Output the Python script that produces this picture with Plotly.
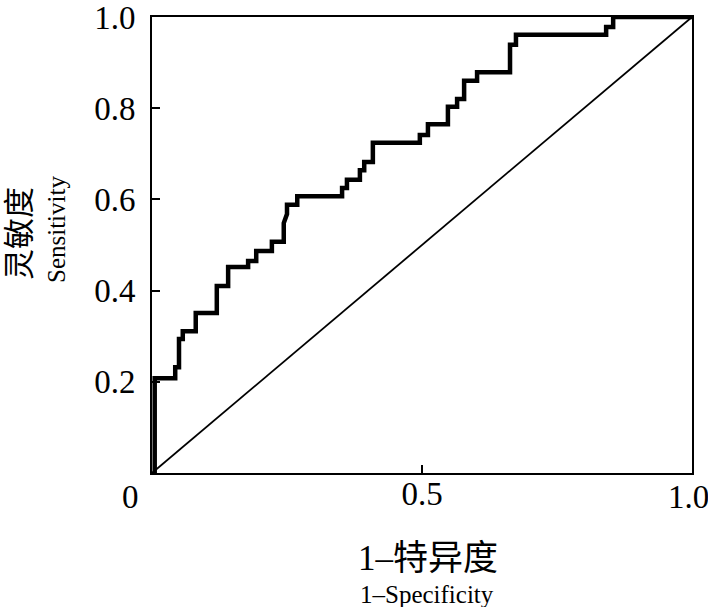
import plotly.graph_objects as go

# ROC curve vertices (1-Specificity, Sensitivity)
fpr = [0.005, 0.005, 0.043, 0.043, 0.050, 0.050, 0.057, 0.057, 0.081, 0.081,
       0.120, 0.120, 0.141, 0.141, 0.178, 0.178, 0.193, 0.193, 0.222, 0.222,
       0.244, 0.244, 0.250, 0.250, 0.269, 0.269, 0.352, 0.352, 0.361, 0.361,
       0.385, 0.385, 0.393, 0.393, 0.409, 0.409, 0.496, 0.496, 0.511, 0.511,
       0.548, 0.548, 0.565, 0.565, 0.578, 0.578, 0.602, 0.602, 0.663, 0.663,
       0.674, 0.674, 0.841, 0.841, 0.854, 0.854, 1.000]
tpr = [0.000, 0.208, 0.208, 0.232, 0.232, 0.294, 0.294, 0.311, 0.311, 0.351,
       0.351, 0.410, 0.410, 0.452, 0.452, 0.465, 0.465, 0.487, 0.487, 0.507,
       0.507, 0.548, 0.568, 0.588, 0.588, 0.607, 0.607, 0.625, 0.625, 0.643,
       0.643, 0.664, 0.664, 0.682, 0.682, 0.724, 0.724, 0.741, 0.741, 0.765,
       0.765, 0.803, 0.803, 0.820, 0.820, 0.860, 0.860, 0.879, 0.879, 0.939,
       0.939, 0.961, 0.961, 0.978, 0.978, 1.000, 1.000]

ref_x = [0.0, 1.0]
ref_y = [0.0, 1.0]

x_ticks = [0.5, 1.0]
x_ticktext = ["0.5", ""]        # the 1.0 label is placed flush with the right edge below
x_edge_label = "1.0"
x_origin_label = "0"
y_ticks = [0.2, 0.4, 0.6, 0.8, 1.0]
y_ticktext = ["0.2", "0.4", "0.6", "0.8", "1.0"]

serif = "Liberation Serif, Noto Sans CJK SC"
cjk = "Liberation Serif, Noto Sans CJK SC"

fig = go.Figure()
fig.add_trace(go.Scatter(x=ref_x, y=ref_y, mode="lines",
                         line=dict(color="black", width=1.8),
                         hoverinfo="skip", showlegend=False))
fig.add_trace(go.Scatter(x=fpr, y=tpr, mode="lines",
                         line=dict(color="black", width=4.5),
                         hoverinfo="skip", showlegend=False))

axis_common = dict(
    range=[0, 1], showgrid=False, zeroline=False,
    showline=True, linecolor="black", linewidth=2, mirror=True,
    ticks="inside", ticklen=8, tickwidth=2, tickcolor="black",
    tickfont=dict(family=serif, size=33, color="black"),
    ticklabeloverflow="allow", automargin=False,
)

fig.update_xaxes(**axis_common, tickvals=x_ticks, ticktext=x_ticktext,
                 ticklabelstandoff=-10)
fig.update_yaxes(**axis_common, tickvals=y_ticks, ticktext=y_ticktext,
                 ticklabelstandoff=8)

W, H = 708, 607
L, R, T, B = 152, 16, 17, 134
pw, ph = W - L - R, H - T - B


def px(xp):
    return (xp - L) / pw


def py(yp):
    return (H - B - yp) / ph


annotations = [
    dict(text=x_origin_label, x=px(130), y=py(497), font=dict(family=serif, size=33)),
    dict(text=x_edge_label, x=px(688), y=py(497), font=dict(family=serif, size=33)),
    dict(text="1–特异度", x=px(428), y=py(558), font=dict(family=cjk, size=35)),
    dict(text="1–Specificity", x=px(427), y=py(594), font=dict(family=serif, size=25)),
    dict(text="灵敏度", x=px(19), y=py(234), textangle=-90,
         font=dict(family=cjk, size=31)),
    dict(text="Sensitivity", x=px(57), y=py(230), textangle=-90,
         font=dict(family=serif, size=25)),
]
for a in annotations:
    a.update(xref="paper", yref="paper", showarrow=False,
             xanchor="center", yanchor="middle")
    a["font"]["color"] = "black"

fig.update_layout(
    width=W, height=H, autosize=False,
    margin=dict(l=L, r=R, t=T, b=B, pad=0),
    paper_bgcolor="white", plot_bgcolor="white",
    annotations=annotations,
    showlegend=False,
)

fig.write_html(
    "out.html",
    config={"displayModeBar": False, "responsive": False},
    post_script="document.body.style.margin='0';document.body.style.overflow='hidden';",
)
